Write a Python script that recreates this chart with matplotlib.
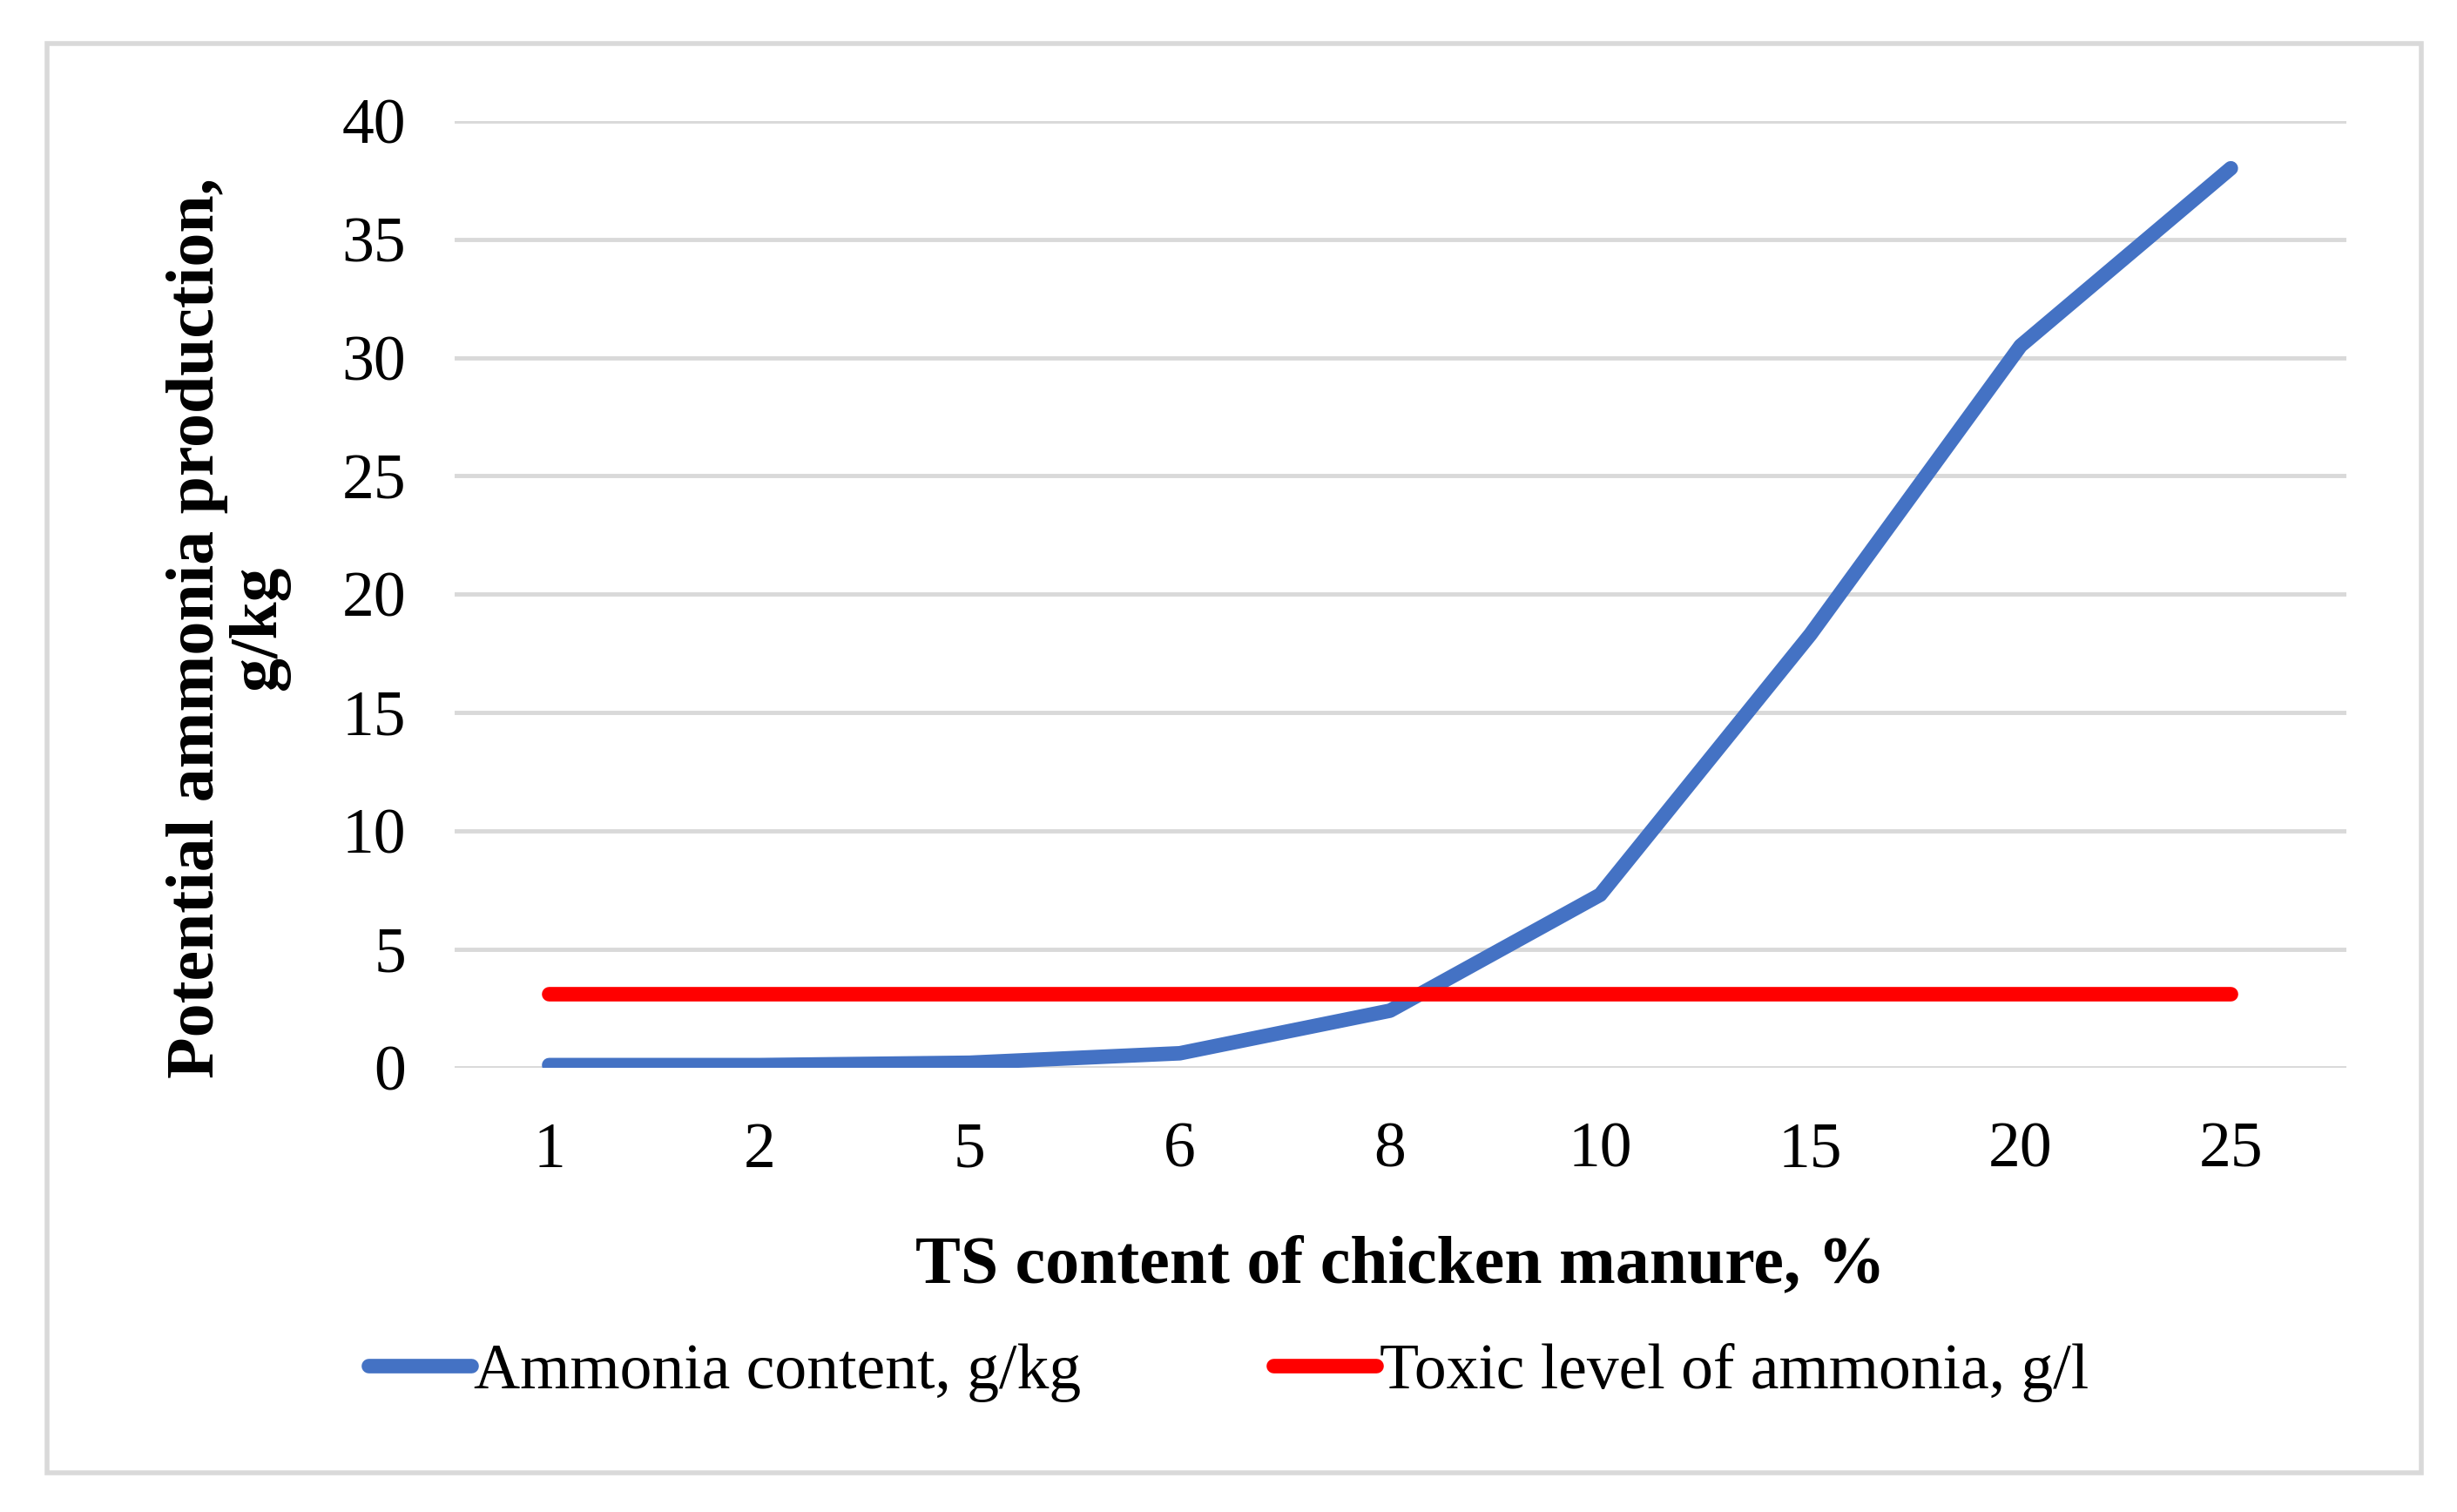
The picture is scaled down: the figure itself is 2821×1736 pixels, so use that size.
import matplotlib
matplotlib.use('Agg')
import matplotlib.pyplot as plt
from matplotlib.patches import Rectangle

categories = ['1', '2', '5', '6', '8', '10', '15', '20', '25']
ammonia = [0.1, 0.1, 0.2, 0.6, 2.4, 7.3, 18.3, 30.5, 38.0]
toxic = [3.1] * len(categories)

plt.rcParams['font.family'] = ['Liberation Serif', 'DejaVu Serif']

fig = plt.figure(figsize=(28.21, 17.36), dpi=100)
fig.patches.append(Rectangle((30 / 1568, 1 - 940 / 965), 1515 / 1568, 912 / 965,
                             transform=fig.transFigure, fill=False, ec='#d9d9d9', lw=4))
ax = fig.add_axes([0.185, 0.294, 0.770, 0.626])
x = list(range(len(categories)))
ax.plot(x, ammonia, color='#4472c4', lw=12, label='Ammonia content, g/kg', solid_capstyle='round')
ax.plot(x, toxic, color='#ff0000', lw=12, label='Toxic level of ammonia, g/l', solid_capstyle='round')
ax.set_xlim(-0.45, 8.55)
ax.set_ylim(0, 40)
ax.set_yticks(range(0, 41, 5))
ax.set_xticks(x)
ax.set_xticklabels(categories)
ax.grid(axis='y', color='#d9d9d9', lw=3.5)
ax.set_axisbelow(True)
for s in ax.spines.values():
    s.set_visible(False)
ax.tick_params(axis='y', length=0, labelsize=53, pad=40)
ax.tick_params(axis='x', length=0, labelsize=53, pad=45)
ax.set_xlabel('TS content of chicken manure, %', fontsize=56, fontweight='bold', labelpad=45)
fig.text(0.093, 0.585, 'Potential ammonia production,\ng/kg', rotation=90, ha='center', va='center',
         fontsize=56, fontweight='bold', linespacing=1.0)
fig.legend(loc='center', bbox_to_anchor=(0.5, 1 - 876 / 965), ncol=2, frameon=False,
           fontsize=53, handlelength=1.6, handletextpad=0.05, columnspacing=3.0)
fig.savefig('out.png', dpi=100)
